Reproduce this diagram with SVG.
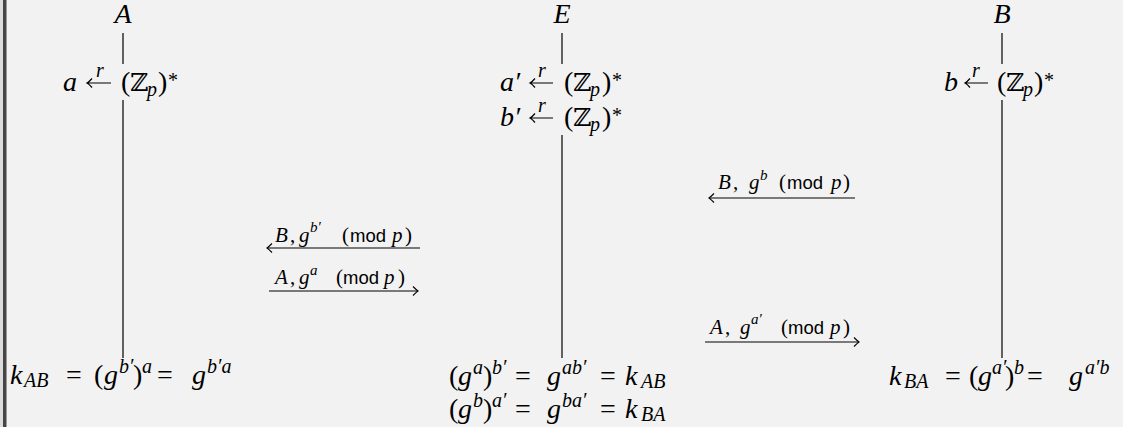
<svg xmlns="http://www.w3.org/2000/svg" width="1123" height="427" viewBox="0 0 1123 427">
<style>
.m{font-family:"Liberation Serif","DejaVu Serif",serif;font-size:28px;fill:#000}
.i{font-style:italic}
.bb{font-family:"DejaVu Serif",serif;font-style:normal;font-size:25px}
.s{font-size:20px}
.l{font-family:"Liberation Serif","DejaVu Serif",serif;font-size:21px;fill:#000}
.ls{font-size:15px;font-style:italic}
.sf{font-family:"Liberation Sans","DejaVu Sans",sans-serif;font-style:normal;font-size:18.5px}
.v{stroke:#000;stroke-width:1.2;fill:none}
.arr{stroke:#000;stroke-width:1.2;fill:none;marker-end:url(#head)}
.sa{stroke:#000;stroke-width:1.2;fill:none}
</style>
<defs>
<marker id="head" markerUnits="userSpaceOnUse" markerWidth="12" markerHeight="12" viewBox="-6 -6 12 12" refX="0" refY="0" orient="auto">
<path d="M-5,-4.5 Q-1.5,-1 0,0 Q-1.5,1 -5,4.5" stroke="#000" stroke-width="1.1" fill="none"/>
</marker>
</defs>
<rect x="0" y="0" width="1123" height="427" fill="#f2f2f2"/>
<rect x="0" y="0" width="3" height="427" fill="#dcdcdc"/>
<rect x="3" y="0" width="3.5" height="427" fill="#454545"/>

<g id="nodeA">
<text class="m i" x="123" y="23" text-anchor="middle">A</text>
<text class="m i" x="63" y="91">a</text>
<path class="sa" d="M87,83 H111 M92,78.5 Q89,82 87,83 Q89,84 92,87.5"/>
<text class="m i s" x="100" y="77" text-anchor="middle">r</text>
<text class="m"><tspan x="121" y="91">(</tspan><tspan class="bb" x="130" y="91">ℤ</tspan><tspan class="i s" x="147" y="96">p</tspan><tspan x="158" y="91">)</tspan><tspan class="s" x="168" y="87">*</tspan></text>
<text class="m"><tspan class="i" x="10" y="384">k</tspan><tspan class="i s" x="24" y="387">AB</tspan><tspan x="66" y="384">=</tspan><tspan x="94" y="384">(</tspan><tspan class="i" x="104" y="384">g</tspan><tspan class="i s" x="119" y="373">b′</tspan><tspan x="133" y="384">)</tspan><tspan class="i s" x="142" y="373">a</tspan><tspan x="157" y="384">=</tspan><tspan class="i" x="192" y="384">g</tspan><tspan class="i s" x="207" y="373">b′a</tspan></text>
</g>

<g id="nodeE">
<text class="m i" x="562" y="23" text-anchor="middle">E</text>
<text class="m i" x="500" y="91">a′</text>
<path class="sa" d="M530,83 H553 M535,78.5 Q532,82 530,83 Q532,84 535,87.5"/>
<text class="m i s" x="542" y="77" text-anchor="middle">r</text>
<text class="m"><tspan x="564" y="91">(</tspan><tspan class="bb" x="573" y="91">ℤ</tspan><tspan class="i s" x="590" y="96">p</tspan><tspan x="602" y="91">)</tspan><tspan class="s" x="612" y="87">*</tspan></text>
<text class="m i" x="500" y="126">b′</text>
<path class="sa" d="M530,118 H553 M535,113.5 Q532,117 530,118 Q532,119 535,122.5"/>
<text class="m i s" x="542" y="112" text-anchor="middle">r</text>
<text class="m"><tspan x="564" y="126">(</tspan><tspan class="bb" x="573" y="126">ℤ</tspan><tspan class="i s" x="590" y="131">p</tspan><tspan x="602" y="126">)</tspan><tspan class="s" x="612" y="122">*</tspan></text>
<text class="m"><tspan x="449" y="385">(</tspan><tspan class="i" x="458" y="385">g</tspan><tspan class="i s" x="473" y="374">a</tspan><tspan x="483" y="385">)</tspan><tspan class="i s" x="492" y="374">b′</tspan><tspan x="515" y="385">=</tspan><tspan class="i" x="547" y="385">g</tspan><tspan class="i s" x="562" y="374">ab′</tspan><tspan x="600" y="385">=</tspan><tspan class="i" x="625" y="385">k</tspan><tspan class="i s" x="641" y="388">AB</tspan></text>
<text class="m"><tspan x="449" y="418">(</tspan><tspan class="i" x="458" y="418">g</tspan><tspan class="i s" x="473" y="407">b</tspan><tspan x="483" y="418">)</tspan><tspan class="i s" x="492" y="407">a′</tspan><tspan x="515" y="418">=</tspan><tspan class="i" x="547" y="418">g</tspan><tspan class="i s" x="562" y="407">ba′</tspan><tspan x="600" y="418">=</tspan><tspan class="i" x="625" y="418">k</tspan><tspan class="i s" x="641" y="421">BA</tspan></text>
</g>

<g id="nodeB">
<text class="m i" x="1002" y="23" text-anchor="middle">B</text>
<text class="m i" x="944" y="91">b</text>
<path class="sa" d="M965,83 H988 M970,78.5 Q967,82 965,83 Q967,84 970,87.5"/>
<text class="m i s" x="976" y="77" text-anchor="middle">r</text>
<text class="m"><tspan x="997" y="91">(</tspan><tspan class="bb" x="1006" y="91">ℤ</tspan><tspan class="i s" x="1023" y="96">p</tspan><tspan x="1034" y="91">)</tspan><tspan class="s" x="1044" y="87">*</tspan></text>
<text class="m"><tspan class="i" x="889" y="385">k</tspan><tspan class="i s" x="904" y="388">BA</tspan><tspan x="945" y="385">=</tspan><tspan x="969" y="385">(</tspan><tspan class="i" x="978" y="385">g</tspan><tspan class="i s" x="992" y="374">a′</tspan><tspan x="1005" y="385">)</tspan><tspan class="i s" x="1014" y="374">b</tspan><tspan x="1027" y="385">=</tspan><tspan class="i" x="1069" y="385">g</tspan><tspan class="i s" x="1085" y="374">a′b</tspan></text>
</g>

<g id="connectors">
<path class="v" d="M123,33 V64 M123,100 V358"/>
<path class="v" d="M562,33 V64 M562,135 V358"/>
<path class="v" d="M1002,33 V64 M1002,100 V358"/>
<path class="arr" d="M420,248 H267"/>
<path class="arr" d="M269,291 H418"/>
<path class="arr" d="M855,198 H709"/>
<path class="arr" d="M705,342 H859"/>
<text class="l"><tspan class="i" x="275" y="242">B</tspan><tspan x="290" y="242">,</tspan><tspan class="i" x="299" y="242">g</tspan><tspan class="ls" x="310" y="232">b′</tspan><tspan x="342" y="242">(</tspan><tspan class="sf" x="350" y="242">mod</tspan><tspan class="i" x="392" y="242">p</tspan><tspan x="405" y="242">)</tspan></text>
<text class="l"><tspan class="i" x="275" y="284">A</tspan><tspan x="290" y="284">,</tspan><tspan class="i" x="299" y="284">g</tspan><tspan class="ls" x="310" y="275">a</tspan><tspan x="336" y="284">(</tspan><tspan class="sf" x="343" y="284">mod</tspan><tspan class="i" x="384" y="284">p</tspan><tspan x="398" y="284">)</tspan></text>
<text class="l"><tspan class="i" x="718" y="189">B</tspan><tspan x="733" y="189">,</tspan><tspan class="i" x="749" y="189">g</tspan><tspan class="ls" x="760" y="180">b</tspan><tspan x="779" y="189">(</tspan><tspan class="sf" x="787" y="189">mod</tspan><tspan class="i" x="831" y="189">p</tspan><tspan x="843" y="189">)</tspan></text>
<text class="l"><tspan class="i" x="710" y="334">A</tspan><tspan x="725" y="334">,</tspan><tspan class="i" x="740" y="334">g</tspan><tspan class="ls" x="751" y="324">a′</tspan><tspan x="781" y="334">(</tspan><tspan class="sf" x="788" y="334">mod</tspan><tspan class="i" x="830" y="334">p</tspan><tspan x="843" y="334">)</tspan></text>
</g>
</svg>
